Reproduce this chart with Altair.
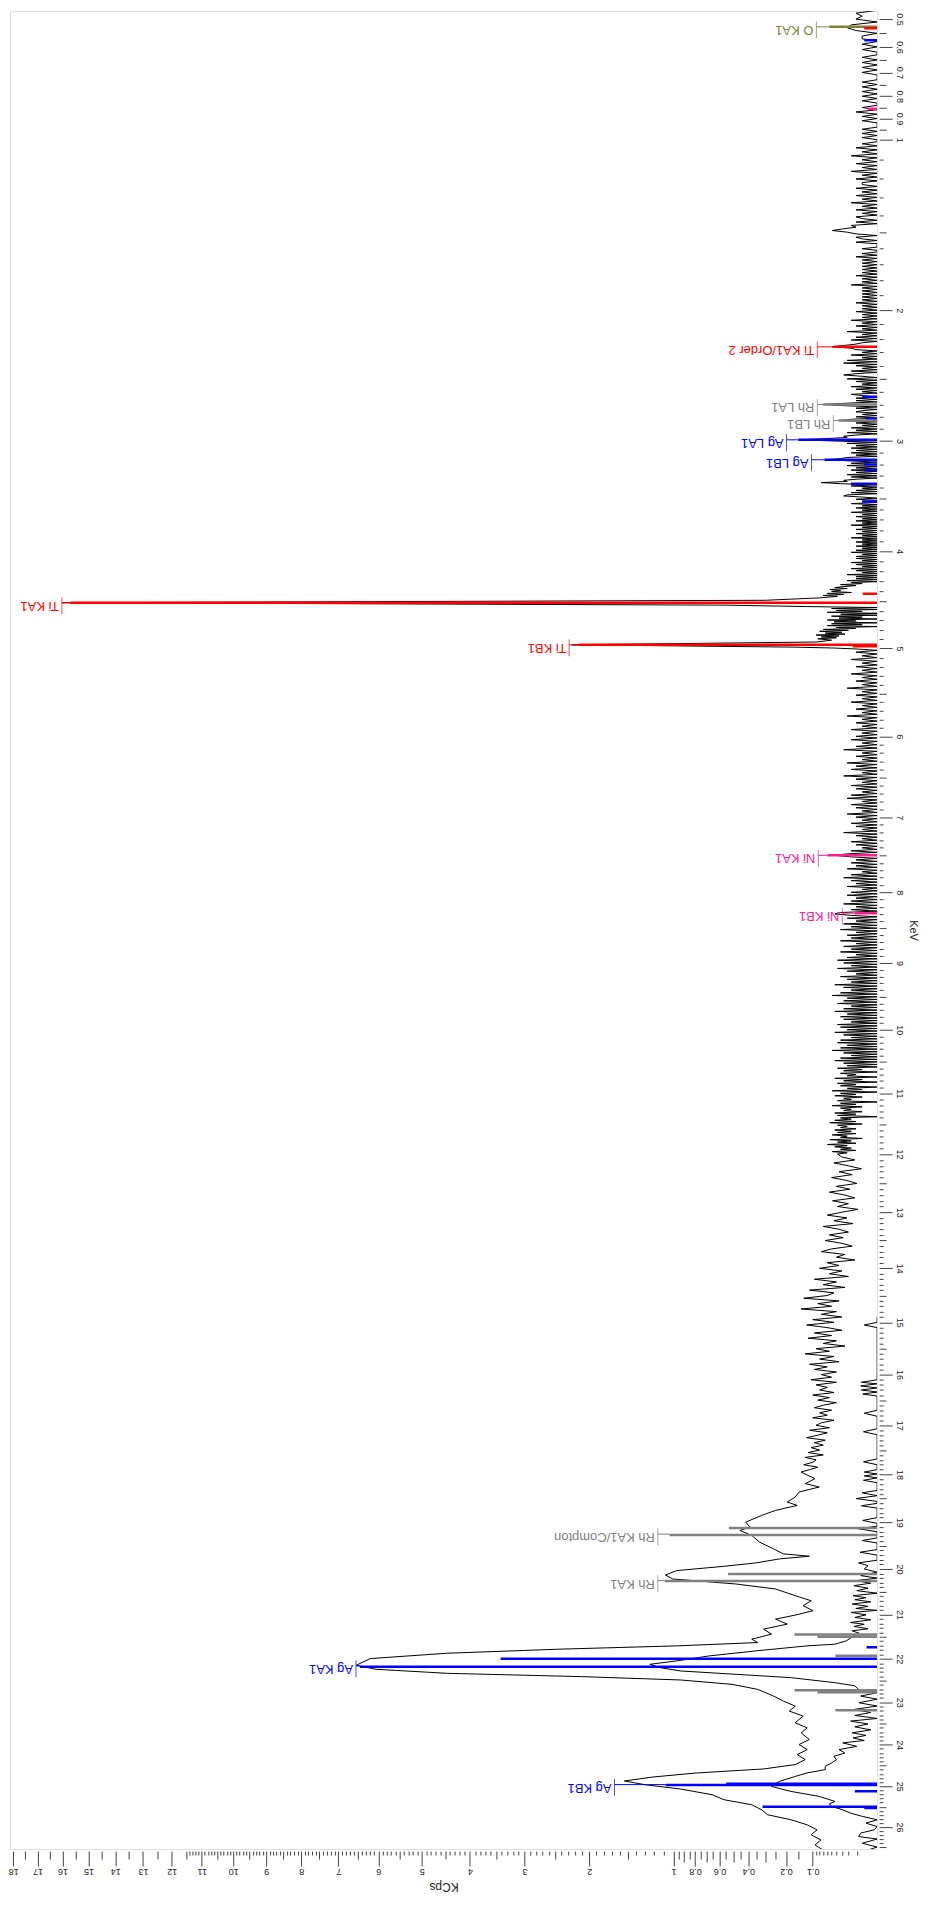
import altair as alt
import pandas as pd

# ---------------- data ----------------
COUNT_UNIT = 0.0054  # KCps per detector count (one comb step)

# spectrum A, low-energy comb, counts per 0.01 keV channel from 0.47 keV
L_START, L_STEP = 0.47, 0.01
L_COUNTS = [
    0, 2, 1, 2, 0, 3, 4, 2, 0, 1,
    1, 0, 1, 0, 1, 0, 0, 1, 0, 1,
    0, 1, 0, 1, 0, 0, 0, 1, 0, 1,
    0, 1, 0, 1, 0, 1, 0, 0, 1, 0,
    2, 0, 1, 0, 1, 0, 0, 0, 1, 0,
    1, 0, 1, 0, 0, 1, 0, 2, 0, 1,
    0, 3, 0, 1, 0, 2, 0, 1, 0, 3,
    0, 1, 0, 2, 0, 1, 1, 0, 2, 0,
    1, 0, 2, 0, 1, 0, 3, 0, 1, 0,
    2, 0, 1, 0, 2, 1, 0, 2, 0, 3,
    2, 5, 9, 4, 2, 0, 2, 1, 0, 2,
    0, 0, 0, 1, 0, 0, 1, 0, 2, 0,
    1, 0, 1, 0, 1, 0, 1, 0, 1, 0,
    2, 0, 1, 0, 1, 0, 3, 0, 1, 0,
    1, 0, 1, 0, 1, 0, 1, 0, 2, 0,
    1, 0, 1, 0, 2, 0, 1, 0, 1, 0,
    3, 0, 1, 0, 2, 0, 1, 0, 4, 0,
    1, 0, 2, 0, 3, 0, 1, 2, 5, 9,
    3, 2, 0, 1, 0, 3, 0, 1, 0, 4,
    0, 5, 0, 2, 0, 1, 0, 3, 0, 2,
    5, 1, 0, 4, 0, 2, 0, 1, 0, 3,
    0, 2, 0, 1, 0, 3, 1, 0, 2, 0,
    2, 0, 4, 13, 5, 0, 2, 0, 1, 2,
    0, 1, 0, 2, 0, 3, 6, 0, 2, 0,
    1, 0, 3, 0, 2, 0, 4, 0, 2, 5,
    4, 12, 27, 8, 0, 4, 0, 2, 0, 3,
    0, 2, 0, 3, 0, 2, 0, 4, 6, 11,
    3, 0, 3, 0, 4, 0, 2, 0, 3, 0,
    2, 0, 4, 0, 3, 0, 2, 5, 4, 14,
    6, 0, 3, 0, 1, 0, 2, 0, 3, 0,
    4, 5, 1, 0, 2, 0, 1, 0, 3, 0,
    1, 0, 2, 0, 1, 0, 3, 0, 1, 0,
    2, 0, 1, 0, 2, 0, 1, 0, 3, 0,
    1, 0, 2, 0, 1, 0, 2, 0, 1, 0,
    3, 0, 1, 0, 2, 0, 1, 0, 2, 0,
    1, 0, 2, 0, 3, 0, 1, 0, 2, 0,
    2, 0, 1, 0, 3, 0, 2, 0, 1, 0,
    3, 0, 2, 0, 1, 0, 4, 0, 2, 0,
    2, 0, 4, 0, 3, 1, 6, 2, 5, 8,
    4, 10, 6,
]

# spectrum A, Ti K region (keV, KCps)
P_E = [4.40, 4.41, 4.42, 4.43, 4.44, 4.45, 4.465, 4.49, 4.515, 4.54, 4.555,
       4.565, 4.575, 4.585, 4.595, 4.605, 4.615, 4.625, 4.635, 4.645, 4.655,
       4.665, 4.675, 4.685, 4.695, 4.705, 4.715, 4.725, 4.735, 4.745, 4.755,
       4.765, 4.775, 4.785, 4.795, 4.805, 4.815, 4.825, 4.835, 4.845, 4.855,
       4.865, 4.875, 4.885, 4.895, 4.91, 4.93, 4.96, 4.985, 4.995, 5.005]
P_V = [0.050, 0.016, 0.060, 0.027, 0.070, 0.038, 0.080, 0.30, 16.0, 0.55, 0.12,
       0.0, 0.05, 0.0, 0.04, 0.0054, 0.06, 0.0, 0.032, 0.0, 0.05,
       0.0054, 0.035, 0.0, 0.06, 0.011, 0.045, 0.0, 0.05, 0.0054, 0.06,
       0.0, 0.04, 0.011, 0.07, 0.02, 0.08, 0.03, 0.065, 0.025, 0.09,
       0.035, 0.075, 0.04, 0.085, 0.05, 0.09, 2.25, 0.17, 0.045, 0.011]

# spectrum A, middle comb, counts per 0.02 keV channel from 5.02 keV
M_START, M_STEP = 5.02, 0.02
M_COUNTS = [
    0, 2, 0, 1, 0, 3, 0, 1, 0, 2,
    0, 1, 0, 3, 0, 1, 0, 2, 0, 1,
    0, 4, 0, 1, 0, 2, 0, 1, 0, 3,
    0, 1, 0, 2, 0, 1, 0, 4, 0, 1,
    0, 2, 0, 1, 0, 3, 0, 1, 0, 2,
    0, 3, 0, 1, 0, 2, 0, 5, 0, 1,
    0, 2, 0, 1, 0, 4, 0, 2, 0, 3,
    0, 1, 0, 5, 0, 2, 0, 1, 0, 3,
    0, 2, 0, 1, 0, 3, 0, 4, 0, 1,
    0, 3, 0, 2, 0, 1, 0, 4, 0, 2,
    0, 1, 0, 3, 0, 2, 0, 1, 0, 5,
    0, 2, 0, 1, 0, 3, 0, 2, 0, 1,
    0, 3, 0, 4, 8, 3, 0, 2, 0, 3,
    0, 2, 0, 4, 0, 1, 0, 3, 0, 5,
    0, 3, 0, 2, 0, 4, 0, 1, 0, 3,
    0, 4, 0, 2, 0, 3, 0, 5, 0, 2,
    0, 3, 0, 6, 8, 3, 0, 4, 0, 2,
    0, 5, 0, 3, 0, 6, 0, 2, 0, 4,
    0, 3, 0, 6, 0, 2, 0, 5, 0, 3,
    0, 6, 0, 2, 0, 4, 0, 7, 0, 5,
    0, 3, 0, 7, 0, 4, 0, 2, 0, 6,
    0, 4, 0, 3, 0, 8, 0, 5, 0, 3,
    0, 6, 0, 9, 0, 4, 0, 5, 0, 7,
    0, 3, 0, 5, 0, 8, 0, 4, 0, 6,
    0, 5, 0, 3, 0, 7, 0, 6, 0, 4,
    0, 8, 0, 5, 0, 3, 0, 6, 0, 7,
    0, 4, 0, 6, 0, 9, 0, 5, 0, 3,
    0, 6, 0, 8, 0, 5, 0, 4, 0, 7,
    1, 5, 0, 6, 2, 4, 0, 8, 1, 5,
    0, 7, 2, 6, 0, 4, 1, 9, 0, 6,
    2, 8, 1, 5, 3, 7, 0, 6, 2, 9,
    1, 6, 3, 5, 1, 8, 2, 7, 0, 6,
    3, 8, 2, 10, 1, 7, 4, 6, 2, 8,
    3, 7, 2, 9, 4, 6, 1, 10, 3, 7,
    2, 11, 4, 8, 3, 6, 2, 9, 4, 7,
]

# spectrum A, 12-18 keV, milli-KCps per 0.05 keV from 12.05 keV
H_START, H_STEP = 12.05, 0.05
H_MILLI = [
    30, 12, 45, 20, 6, 35, 15, 50, 22,
    10, 40, 18, 55, 25, 12, 48, 20, 38, 9,
    30, 60, 22, 45, 14, 70, 35, 20, 55, 28,
    65, 30, 15, 50, 75, 25, 40, 12, 60, 35,
    80, 30, 55, 20, 95, 40, 70, 25, 110, 45,
    60, 130, 35, 85, 50, 140, 40, 75, 30, 100,
    45, 120, 60, 30, 95, 50, 115, 40, 70, 25,
    90, 55, 125, 45, 80, 35, 110, 60, 95, 40,
    75, 50, 105, 40, 90, 60, 80, 45, 100, 55,
    85, 40, 70, 95, 50, 80, 60, 100, 45, 75,
    90, 55, 110, 60, 85, 120, 65, 95, 70, 105,
    80, 115, 70, 125, 90, 100, 130, 85, 110, 140,
]

# spectrum A, Rh / Ag K region (keV, KCps)
R_E = [18.086, 18.189, 18.259, 18.363, 18.468, 18.573, 18.643, 18.748, 18.854, 18.995,
       19.102, 19.173, 19.280, 19.422, 19.566, 19.674, 19.724, 19.782, 19.869, 19.942,
       20.036, 20.131, 20.218, 20.328, 20.438, 20.585, 20.696, 20.807, 20.918, 21.015,
       21.105, 21.217, 21.329, 21.442, 21.555, 21.631, 21.706, 21.782, 21.873, 21.995,
       22.148, 22.239, 22.332, 22.408, 22.485, 22.586, 22.702, 22.857, 22.974, 23.091,
       23.208, 23.325, 23.483, 23.601, 23.720, 23.878, 23.997, 24.117, 24.237, 24.357,
       24.477, 24.582, 24.679, 24.776, 24.873, 24.962, 25.068, 25.206, 25.329, 25.452,
       25.575, 25.698, 25.822, 25.946, 26.070, 26.195, 26.320, 26.445, 26.570]
R_V = [0.093, 0.125, 0.081, 0.147, 0.162, 0.195, 0.154, 0.249, 0.322, 0.416,
       0.391, 0.454, 0.379, 0.333, 0.259, 0.212, 0.111, 0.230, 0.355, 0.565,
       0.970, 1.080, 1.008, 0.481, 0.249, 0.162, 0.105, 0.132, 0.099, 0.162,
       0.249, 0.195, 0.311, 0.269, 0.379, 0.344, 0.970, 2.456, 4.457, 6.200,
       6.543, 6.057, 4.457, 2.105, 0.932, 0.508, 0.344, 0.259, 0.212, 0.162,
       0.186, 0.132, 0.162, 0.118, 0.139, 0.111, 0.147, 0.118, 0.154, 0.125,
       0.162, 0.311, 0.788, 1.213, 1.541, 1.300, 0.932, 0.656, 0.565, 0.379,
       0.322, 0.289, 0.178, 0.118, 0.087, 0.105, 0.076, 0.093, 0.071]

# spectrum B (second, weaker trace)
B_E = [14.90, 15.00, 15.05, 15.10, 16.10, 16.15, 16.18, 16.22, 16.26, 16.30, 16.34, 16.38,
       16.42, 16.70, 16.76, 16.82, 17.07, 17.13, 17.19, 17.68, 17.74, 17.80, 17.90, 17.95,
       17.99, 18.03, 18.07, 18.12, 18.17, 18.33, 18.38, 18.44, 18.50, 18.56, 18.60, 18.65,
       18.70, 18.90, 18.96, 19.02, 19.08, 19.137, 19.20, 19.33, 19.387, 19.44, 19.58, 19.638,
       19.70, 19.81, 19.869, 19.93, 20.00, 20.07, 20.145, 20.20, 20.255, 20.31, 20.365, 20.42,
       20.475, 20.53, 20.585, 20.63, 20.674, 20.72, 20.77, 20.82, 20.867, 20.91, 20.956, 21.01,
       21.068, 21.12, 21.18, 21.22, 21.269, 21.32, 21.367, 21.42, 21.48, 21.593, 21.668, 21.706,
       21.82, 21.934, 22.048, 22.125, 22.201, 22.278, 22.355, 22.432, 22.547, 22.62, 22.702, 22.78,
       22.857, 22.93, 23.013, 23.09, 23.169, 23.24, 23.31, 23.38, 23.443, 23.51, 23.577, 23.65,
       23.719, 23.78, 23.839, 23.90, 23.958, 24.04, 24.117, 24.20, 24.277, 24.36, 24.437, 24.52,
       24.598, 24.68, 24.759, 24.881, 25.003, 25.125, 25.247, 25.31, 25.37, 25.43, 25.493, 25.575,
       25.657, 25.74, 25.82, 25.905, 25.99, 26.07, 26.15, 26.237, 26.30, 26.403, 26.50, 26.60]
B_V = [0, 0, 0.004, 0, 0, 0.006, 0, 0.0065, 0, 0.006, 0, 0.005,
       0, 0, 0.004, 0, 0, 0.0045, 0, 0, 0.0045, 0, 0, 0.004,
       0, 0.004, 0, 0.0045, 0, 0, 0.0055, 0, 0.0106, 0, 0, 0.006,
       0, 0, 0.005, 0, 0, 0.0083, 0, 0, 0.0054, 0, 0, 0.007,
       0, 0, 0.0083, 0.002, 0.004, 0, 0.0065, 0, 0.011, 0.001, 0.013, 0.002,
       0.010, 0, 0.014, 0.003, 0.012, 0.001, 0.015, 0.002, 0.011, 0, 0.016, 0.003,
       0.012, 0.001, 0.017, 0.004, 0.013, 0.002, 0.015, 0.008, 0.013, 0.023, 0.043, 0.118,
       0.355, 0.68, 0.97, 1.245, 1.14, 0.93, 0.48, 0.178, 0.043, 0.012, 0.0083, 0,
       0.0065, 0, 0.008, 0, 0.013, 0.001, 0.012, 0, 0.017, 0.002, 0.012, 0.001,
       0.015, 0.003, 0.014, 0.004, 0.0285, 0.010, 0.035, 0.025, 0.045, 0.040, 0.050, 0.065,
       0.065, 0.12, 0.16, 0.23, 0.27, 0.18, 0.081, 0.06, 0.043, 0.055, 0.05, 0.0285,
       0.017, 0.005, 0, 0.003, 0, 0.0002, 0.0065, 0.0083, 0, 0.0054, 0, 0.004]

OLIVE, RED, BLUE, GRAY, PINK = "#7f7f3a", "#ff0000", "#0000ff", "#808080", "#ff2090"

# element line markers (keV, KCps height, colour)
MARK_E = [0.527, 0.532, 2.26, 4.424, 4.515, 4.96, 4.975,
          0.5755, 2.64, 2.815, 2.99, 3.16, 3.20, 3.25, 3.37, 3.53,
          21.74, 22.00, 22.18, 24.94, 24.97, 25.12, 25.50, 25.53,
          2.70, 2.83, 19.12, 19.27, 20.11, 20.26, 21.45, 21.50, 21.93, 22.72, 22.77, 23.19,
          0.855, 7.50, 8.29]
MARK_V = [0.055, 0.004, 0.045, 0.005, 15.7, 2.15, 0.0146,
          0.004, 0.0054, 0.003, 0.150, 0.067, 0.004, 0.004, 0.0166, 0.0054,
          0.0027, 3.42, 6.45, 0.55, 1.08, 0.012, 0.317, 0.004,
          0.070, 0.036, 0.53, 1.04, 0.536, 1.09, 0.165, 0.086, 0.042, 0.165, 0.086, 0.042,
          0.002, 0.060, 0.012]
MARK_C = [OLIVE, RED, RED, RED, RED, RED, RED,
          BLUE, BLUE, BLUE, BLUE, BLUE, BLUE, BLUE, BLUE, BLUE,
          BLUE, BLUE, BLUE, BLUE, BLUE, BLUE, BLUE, BLUE,
          GRAY, GRAY, GRAY, GRAY, GRAY, GRAY, GRAY, GRAY, GRAY, GRAY, GRAY, GRAY,
          PINK, PINK, PINK]

# peak labels
LBL_TEXT = ["O KA1", "Ti KA1/Order 2", "Rh LA1", "Rh LB1", "Ag LA1", "Ag LB1",
            "Ti KA1", "Ti KB1", "Ni KA1", "Ni KB1",
            "Rh KA1/Compton", "Rh KA1", "Ag KA1", "Ag KB1"]
LBL_E = [0.527, 2.26, 2.70, 2.83, 2.99, 3.16, 4.515, 4.96, 7.50, 8.29,
         19.25, 20.255, 22.16, 24.96]
LBL_BAR = [0.089, 0.0863, 0.0863, 0.0464, 0.198, 0.104, 16.03, 2.288, 0.0834, 0.0293,
           1.16, 1.16, 6.55, 1.664]
LBL_TIP = [0.055, 0.045, 0.070, 0.036, 0.150, 0.067, 15.7, 2.15, 0.060, 0.012,
           1.04, 1.09, 6.45, 1.08]
LBL_C = [OLIVE, RED, GRAY, GRAY, BLUE, BLUE, RED, RED, PINK, PINK, GRAY, GRAY, BLUE, BLUE]

# axis ticks
X_LABELLED = [0.1, 0.2, 0.4, 0.6, 0.8] + list(range(1, 19))
Y_LABELLED = [0.5, 0.6, 0.7, 0.8, 0.9] + list(range(1, 27))

# ---------------- build tables ----------------
rows = []
for k, n in enumerate(L_COUNTS):
    rows.append((round(L_START + k * L_STEP, 3), n * COUNT_UNIT))
for e, v in zip(P_E, P_V):
    rows.append((e, v))
for k, n in enumerate(M_COUNTS):
    rows.append((round(M_START + k * M_STEP, 3), n * COUNT_UNIT))
for k, m in enumerate(H_MILLI):
    rows.append((round(H_START + k * H_STEP, 3), m / 1000.0))
for e, v in zip(R_E, R_V):
    rows.append((e, v))
specA = pd.DataFrame(rows, columns=["E", "v"])
specA["i"] = range(len(specA))

specB = pd.DataFrame({"E": B_E[:len(B_V)], "v": B_V[:len(B_E)]})
specB["i"] = range(len(specB))

marks = pd.DataFrame({"E": MARK_E, "v": MARK_V, "c": MARK_C})
labels = pd.DataFrame({"t": LBL_TEXT, "E": LBL_E, "vb": LBL_BAR, "vt": LBL_TIP, "c": LBL_C})

x_ticks = set(X_LABELLED)
x_ticks |= {round(k / 100, 2) for k in range(1, 10)}
x_ticks |= {round(k / 20, 2) for k in range(3, 20)}
x_ticks |= {round(1 + k / 10, 1) for k in range(1, 106)}
x_ticks |= {k + 0.5 for k in range(12, 18)}
X_TICKS = sorted(x_ticks)

y_ticks = {round(0.5 + k * 0.05, 2) for k in range(10)}
y_ticks |= {round(1 + k / 10, 1) for k in range(0, 256)}
Y_TICKS = sorted(t for t in y_ticks if t <= 26.5)

X_LAB_TEST = ("indexof([0.1,0.2,0.4,0.6,0.8], datum.value) >= 0 || "
              "(datum.value >= 1 && abs(datum.value - round(datum.value)) < 1e-6)")
Y_LAB_TEST = ("indexof([0.5,0.6,0.7,0.8,0.9], datum.value) >= 0 || "
              "(datum.value >= 1 && abs(datum.value - round(datum.value)) < 1e-6)")

FONT = "Liberation Sans"

x_axis = alt.Axis(
    orient="bottom", values=X_TICKS, format="~g",
    labelExpr="(" + X_LAB_TEST + ") ? datum.label : ''",
    labelAngle=180, labelAlign="center", labelBaseline="bottom", labelPadding=1,
    labelFontSize=9, labelFont=FONT, labelColor="#222222",
    labelOverlap=False, labelFlush=False,
    tickSize={"condition": [
        {"test": X_LAB_TEST, "value": 15},
        {"test": "datum.value < 1 && datum.value > 0.1 && abs(datum.value*10 - round(datum.value*10)) < 1e-6", "value": 11},
        {"test": "datum.value < 1 && datum.value > 0.1", "value": 8},
        {"test": "datum.value >= 1 && abs(datum.value*2 - round(datum.value*2)) < 1e-6", "value": 8},
    ], "value": 4},
    tickColor="#444444", tickWidth=1, domain=False, grid=False, offset=2,
    title="KCps", titleAngle=180, titleBaseline="bottom", titleFontSize=12,
    titleFont=FONT, titleFontWeight="normal", titleColor="#222222", titlePadding=4,
)

y_axis = alt.Axis(
    orient="right", values=Y_TICKS, format="~g",
    labelExpr="(" + Y_LAB_TEST + ") ? datum.label : ''",
    labelAngle=90, labelAlign="center", labelBaseline="bottom", labelPadding=2,
    labelFontSize=9, labelFont=FONT, labelColor="#222222",
    labelOverlap=False, labelFlush=False,
    tickSize={"condition": [
        {"test": Y_LAB_TEST, "value": 13},
        {"test": "datum.value < 1 || abs(datum.value*2 - round(datum.value*2)) < 1e-6", "value": 7},
    ], "value": 4},
    tickColor="#444444", tickWidth=1, domain=False, grid=False, offset=2,
    title="KeV", titleAngle=90, titleBaseline="bottom", titleFontSize=11,
    titleFont=FONT, titleFontWeight="normal", titleColor="#222222", titlePadding=4,
)

xs = alt.Scale(type="sqrt", domain=[0, 18.134], reverse=True, nice=False, zero=True)
ys = alt.Scale(type="sqrt", domain=[0.47286, 26.549], reverse=True, nice=False, zero=False)


def X(f):
    return alt.X(f, type="quantitative", scale=xs, axis=x_axis)


def Y(f):
    return alt.Y(f, type="quantitative", scale=ys, axis=y_axis)


lineA = alt.Chart(specA).mark_line(color="#000000", strokeWidth=1, clip=True).encode(
    x=X("v"), y=Y("E"), order=alt.Order("i:Q"))
lineB = alt.Chart(specB).mark_line(color="#000000", strokeWidth=1, clip=True).encode(
    x=X("v"), y=Y("E"), order=alt.Order("i:Q"))
rules = alt.Chart(marks).mark_rule(strokeWidth=2.5, clip=True).encode(
    x=X("v"), x2=alt.datum(0), y=Y("E"), color=alt.Color("c:N", scale=None))
leaders = alt.Chart(labels).mark_rule(strokeWidth=1).encode(
    x=X("vb"), x2=alt.X2("vt"), y=Y("E"), color=alt.Color("c:N", scale=None))
bars = alt.Chart(labels).mark_tick(orient="vertical", size=17, thickness=1, yOffset=3).encode(
    x=X("vb"), y=Y("E"), color=alt.Color("c:N", scale=None))
texts = alt.Chart(labels).mark_text(
    angle=180, align="left", baseline="middle", xOffset=-3, yOffset=3,
    fontSize=13, font=FONT).encode(
    x=X("vb"), y=Y("E"), text="t:N", color=alt.Color("c:N", scale=None))

chart = alt.layer(lineA, lineB, rules, leaders, bars, texts).properties(
    width=870, height=1844,
    padding={"left": 0, "top": 0, "right": 3, "bottom": 0},
).configure_view(stroke="#000000", strokeWidth=1).configure(background="#ffffff")

chart.save("out.html", embed_options={"renderer": "svg", "actions": False})
